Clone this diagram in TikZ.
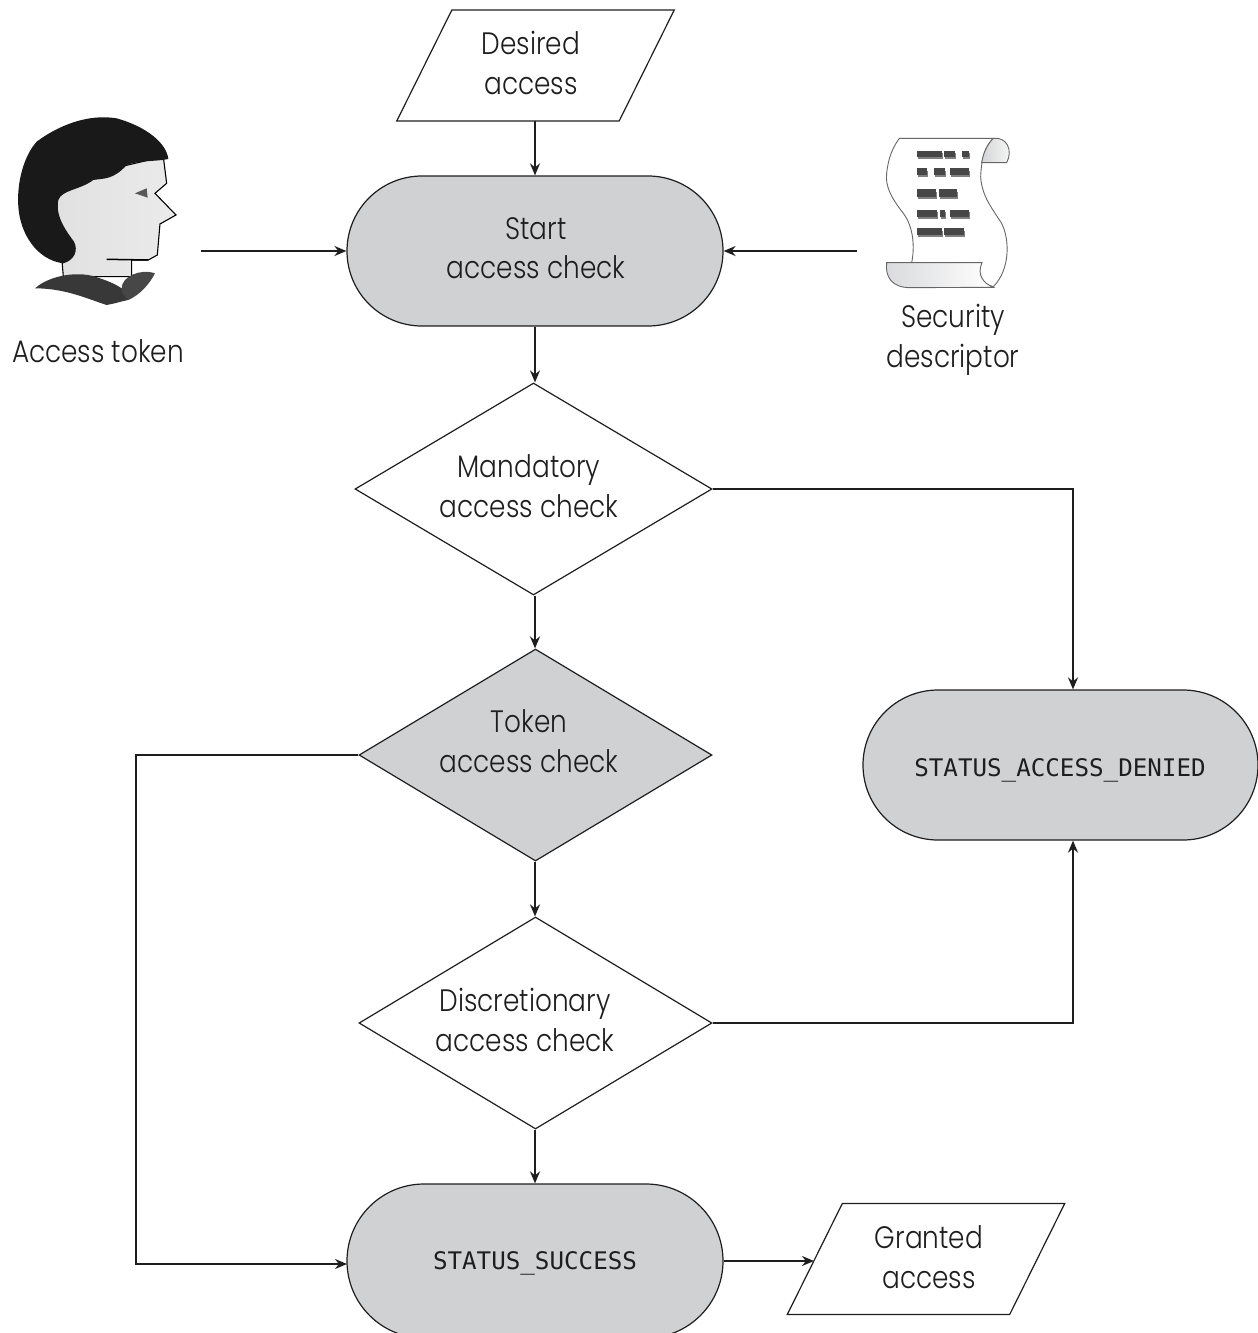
\documentclass[tikz,border=0pt]{standalone}
\usepackage{fontspec}
\setmainfont{Poppins}[UprightFont=* Light,FakeStretch=0.85]
\setmonofont{DejaVu Sans Mono}
\usetikzlibrary{shapes.geometric,shapes.misc,arrows.meta}
\definecolor{boxgray}{RGB}{208,209,211}
\definecolor{ink}{RGB}{30,30,30}
\tikzset{
  pill/.style={rounded rectangle,draw=ink,fill=boxgray,line width=1.2pt,inner sep=0pt},
  decision/.style={diamond,draw=ink,line width=1.2pt,inner sep=0pt,minimum width=#1},
  para/.style={rectangle,inner sep=0pt,minimum width=277pt,minimum height=110.5pt},
  paraline/.style={draw=ink,line width=1.2pt},
  lbl/.style={align=center,font=\fontsize{31pt}{39.5pt}\selectfont,text=ink,inner sep=0pt},
  code/.style={font=\fontsize{24.2pt}{28pt}\selectfont\ttfamily,text=ink,inner sep=0pt},
  flow/.style={line width=1.8pt,draw=ink,-{Stealth[length=12pt,width=10pt]}},
}
\begin{document}
\begin{tikzpicture}[x=1pt,y=-1pt]
\useasboundingbox (0,0) rectangle (1258,1333);
\clip (0,0) rectangle (1258,1333);
% person
\begin{scope}[shift={(0,100)},x=0.3333pt,y=-0.3333pt]
\draw[black,line width=1.1pt,left color=black!12,right color=black!8]
 (150,250) -- (490,170) -- (500,250) -- (465,280) -- (528,345) -- (480,372) -- (472,465) -- (445,480) -- (395,480) -- (395,530) -- (190,530) -- (185,470) -- (150,400) -- cycle;
\draw[black,line width=1.5pt] (320,478) -- (445,480);
\fill[black!65] (405,280) -- (440,265) -- (443,293) -- cycle;
\fill[black!90] (505,177) .. controls (500,130) and (440,80) .. (350,55) .. controls (260,40) and (170,80) .. (110,125) .. controls (70,170) and (50,250) .. (55,320) .. controls (60,400) and (110,480) .. (190,490) .. controls (225,480) and (235,450) .. (222,425) .. controls (200,395) and (165,350) .. (175,300) .. controls (185,270) and (240,270) .. (280,240) .. controls (310,235) and (340,240) .. (380,195) .. controls (420,180) and (470,185) .. (505,177) -- cycle;
\fill[black!78] (105,565) .. controls (150,525) and (240,510) .. (300,535) .. controls (330,545) and (350,555) .. (365,565) -- (385,600) .. controls (360,605) and (340,612) .. (320,615) .. controls (270,600) and (200,565) .. (105,565) -- cycle;
\fill[black!72] (365,565) .. controls (365,530) and (420,505) .. (465,520) .. controls (450,550) and (420,585) .. (385,600) .. controls (375,590) and (365,580) .. (365,565) -- cycle;
\end{scope}
% scroll
\begin{scope}[shift={(850,120)},x=0.3333pt,y=-0.3333pt]
\draw[black!60,fill=white,line width=0.9pt] (148,55) -- (430,55) .. controls (405,80) and (395,110) .. (392,170) .. controls (395,230) and (430,270) .. (455,310) .. controls (480,360) and (480,450) .. (430,500) -- (185,428) .. controls (195,380) and (190,320) .. (160,280) .. controls (125,235) and (105,200) .. (110,160) .. controls (115,110) and (130,80) .. (148,55) -- cycle;
\draw[black!60,left color=boxgray!90,right color=white!95!gray,line width=0.9pt] (430,55) .. controls (470,50) and (490,90) .. (470,128) -- (395,128) .. controls (400,100) and (410,75) .. (430,55) -- cycle;
\draw[black!60,left color=boxgray!80,right color=white,line width=0.9pt] (110,428) -- (396,428) .. controls (380,465) and (400,490) .. (430,502) -- (180,503) .. controls (125,503) and (105,470) .. (110,428) -- cycle;
\foreach \xa/\xb/\ya/\yb in {200/275/92/110,283/315/92/110,335/358/92/110,200/232/145/165,252/285/145/165,300/358/145/165,200/258/208/232,268/320/208/232,200/260/270/292,270/285/270/292,300/358/270/292,200/275/325/345,283/343/325/345}{
  \fill[black!50] (\xa+3,\ya+7) rectangle (\xb+3,\yb+6);
  \fill[black!72] (\xa,\ya) rectangle (\xb,\yb);
}
\end{scope}
% nodes
\node[para] (desired) at (535.5,65.5) {};
\draw[paraline] ([xshift=55pt]desired.north west) -- (desired.north east) -- ([xshift=-55pt]desired.south east) -- (desired.south west) -- cycle;
\node[pill,minimum width=376pt,minimum height=150pt] (start) at (535,251) {};
\node[decision=357pt,minimum height=212pt] (mand) at (533.5,489) {};
\node[decision=353pt,minimum height=212pt,fill=boxgray] (token) at (535.5,755) {};
\node[decision=353pt,minimum height=212pt] (disc) at (535.5,1023) {};
\node[pill,minimum width=376pt,minimum height=154pt] (success) at (535,1261) {};
\node[pill,minimum width=395pt,minimum height=150pt] (denied) at (1060.5,765) {};
\node[para] (granted) at (926,1259) {};
\draw[paraline] ([xshift=55pt]granted.north west) -- (granted.north east) -- ([xshift=-55pt]granted.south east) -- (granted.south west) -- cycle;
\coordinate (tokenout) at (201,251);
\coordinate (sdout) at (857,251);
\coordinate (bendA) at (1073,489);
\coordinate (bendB) at (1073,1022);
\coordinate (bendC) at (136,755);
\coordinate (bendD) at (136,1264);
\coordinate (successin) at (347,1264);
\coordinate (grantedin) at (814,1261);
% labels
\node[lbl] (tdesired) at (531,63) {Desired\\access};
\node[lbl] (tstart) at (536,248) {Start\\access check};
\node[lbl] (tmand) at (529,486) {Mandatory\\access check};
\node[lbl] (ttoken) at (529,741) {Token\\access check};
\node[lbl] (tdisc) at (525,1020) {Discretionary\\access check};
\node[lbl] (tgrant) at (929,1257) {Granted\\access};
\node[lbl] (ttok) at (98,351) {Access token};
\node[lbl] (tsd) at (953,340) {Security\\descriptor};
\node[code] (tsucc) at (535,1263) {STATUS\_SUCCESS};
\node[code] (tden) at (1060,770) {STATUS\_ACCESS\_DENIED};
% connectors
\draw[flow] (desired.south -| start.north) -- (start.north);
\draw[flow] (tokenout) -- (start.west);
\draw[flow] (sdout) -- (start.east);
\draw[flow] (start.south) -- (mand.north -| start.south);
\draw[flow] (mand.east) -- (bendA) -- (denied.north -| bendA);
\draw[flow] (mand.south -| start.south) -- (token.north -| start.south);
\draw[flow] (token.west) -- (bendC) -- (bendD) -- (successin);
\draw[flow] (token.south -| start.south) -- (disc.north -| start.south);
\draw[flow] (disc.east) -- (disc.east -| bendB) -- (denied.south -| bendB);
\draw[flow] (disc.south -| start.south) -- (success.north -| start.south);
\draw[flow] (success.east) -- (grantedin);
\end{tikzpicture}
\end{document}
